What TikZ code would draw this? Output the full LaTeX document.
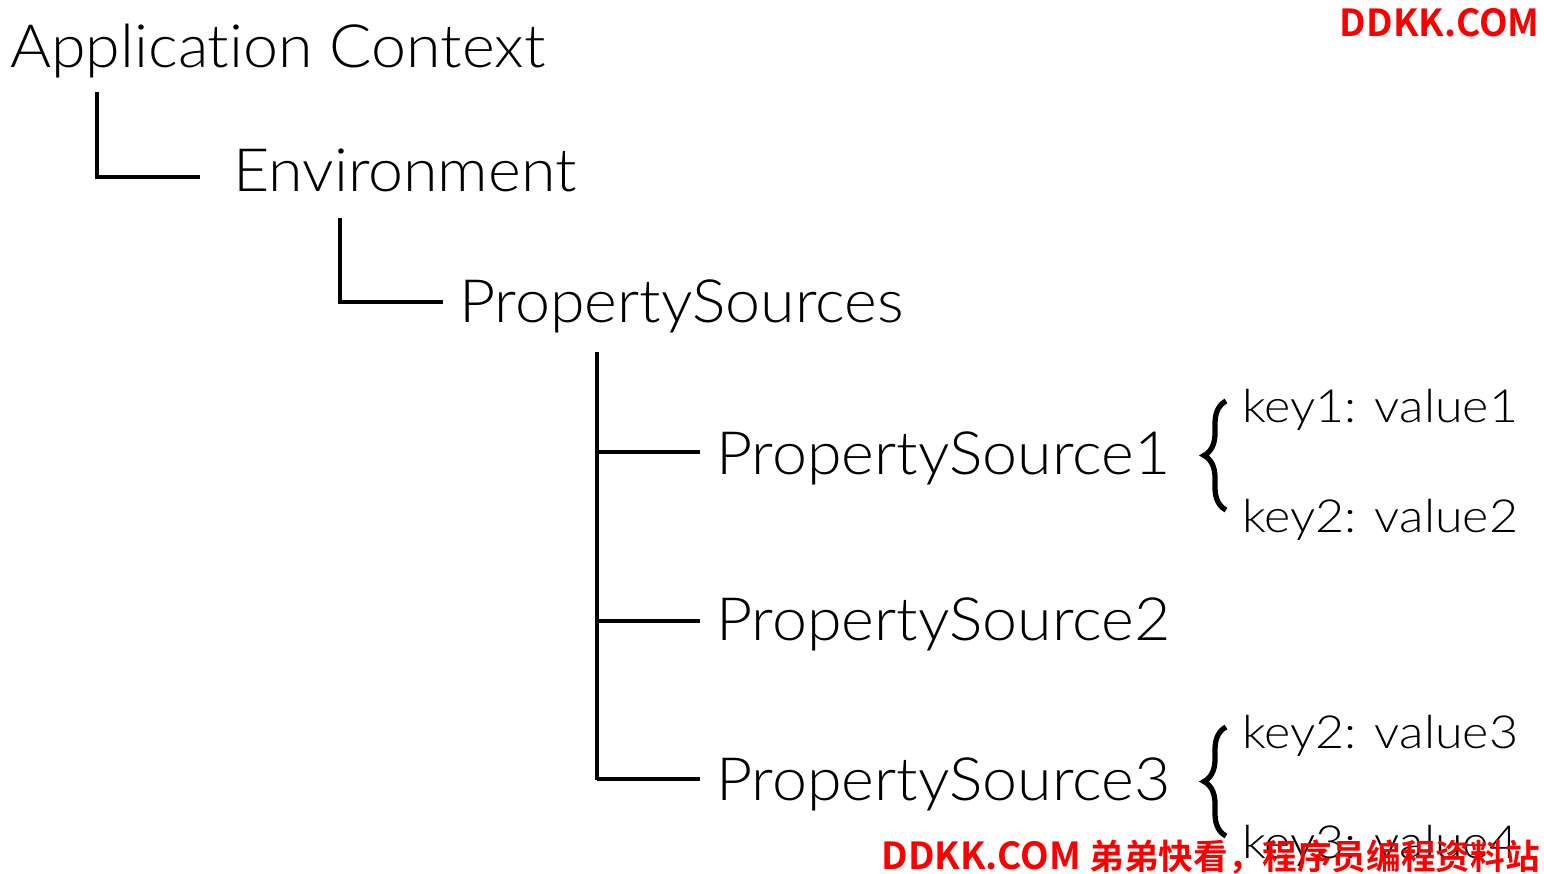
\documentclass[tikz,border=0pt]{standalone}
\usepackage{fontspec}
\setmainfont{Lato}[UprightFont={* Light}, Ligatures=NoCommon, FakeStretch=1.05]
\newfontfamily\keyfont{Lato}[UprightFont={* Light}, Ligatures=NoCommon, FakeStretch=1.1]
\newfontfamily\cjk{Noto Sans CJK SC}[BoldFont={* Bold}]
\usetikzlibrary{decorations.pathreplacing}
\definecolor{markred}{RGB}{250,0,0}
\tikzset{
    big/.style={anchor=base west, inner sep=0pt, font=\fontsize{34}{40}\selectfont},
    small/.style={anchor=base west, inner sep=0pt, font=\keyfont\fontsize{26}{30}\selectfont},
    tree/.style={line width=2.1pt},
    curly/.style={line width=3pt, decorate, decoration={brace, amplitude=0.44cm}},
    wmark/.style={anchor=base east, inner sep=0pt, text=markred, font=\cjk\bfseries\fontsize{21.2}{26}\selectfont}
}
\begin{document}
\begin{tikzpicture}[x=0.02cm, y=-0.02cm]
            \useasboundingbox (0,0) rectangle (1544,874);
            % tree
            \node[big] (app) at (10,68) {Application Context};
            \node[big] (env) at (233,192) {Environment};
            \node[big] (pss) at (459,323) {PropertySources};
            \node[big] (ps1) at (716,475) {PropertySource1};
            \node[big] (ps2) at (716,640) {PropertySource2};
            \node[big] (ps3) at (716,800) {PropertySource3};
            \coordinate (e1) at (200,177);
            \coordinate (e2) at (443,302);
            \draw[tree] (97,92) |- (e1);
            \draw[tree] (340,218) |- (e2);
            \draw[tree] (597,352) -- (597,780);
            \foreach \y/\n in {452/ps1,621/ps2,779/ps3} {
                \draw[tree] (597,\y) -- (700,\y) coordinate (\n-in);
            }
            % keys
            \node[small] (k1) at (1242,422) {key1: value1};
            \node[small] (k2) at (1242,532) {key2: value2};
            \node[small] (k3) at (1242,748) {key2: value3};
            \node[small] (k4) at (1242,858) {key3: value4};
            \draw[curly] (1226,510) -- (1226,401);
            \draw[curly] (1226,836) -- (1226,727);
            % marks
            \node[wmark] (m1) at (1540,37) {DDKK.COM};
            \node[wmark] (m2) at (1540,869) {DDKK.COM {\fontsize{19.7}{24}\selectfont 弟弟快看，程序员编程资料站}};
\end{tikzpicture}
\end{document}
